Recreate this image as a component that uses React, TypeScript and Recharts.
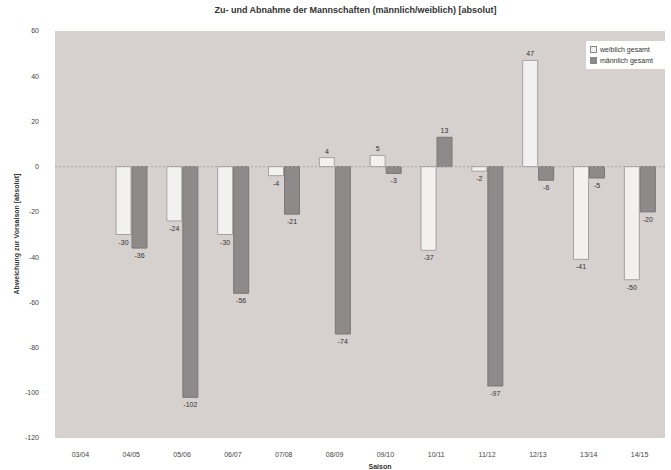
import React from "react";
import {
  Bar,
  BarChart,
  CartesianGrid,
  LabelList,
  ReferenceLine,
  XAxis,
  YAxis,
} from "recharts";

const seasons = ["03/04", "04/05", "05/06", "06/07", "07/08", "08/09", "09/10", "10/11", "11/12", "12/13", "13/14", "14/15"];
const weiblich = [null, -30, -24, -30, -4, 4, 5, -37, -2, 47, -41, -50];
const maennlich = [null, -36, -102, -56, -21, -74, -3, 13, -97, -6, -5, -20];
const yTicks = [60, 40, 20, 0, -20, -40, -60, -80, -100, -120];

const data = seasons.map((s, i) => ({
  name: s,
  "weiblich gesamt": weiblich[i],
  "männlich gesamt": maennlich[i],
}));

const FONT = "'Liberation Sans', Arial, sans-serif";

function renderValue(props: any) {
  const { x, y, width, height, value } = props;
  if (value === null || value === undefined) return null;
  const top = Math.min(y, y + height);
  const bottom = Math.max(y, y + height);
  const ty = value >= 0 ? top - 4 : bottom + 10;
  return (
    <text x={x + width / 2} y={ty} textAnchor="middle" fontSize={7} fill="#333" fontFamily={FONT}>
      {value}
    </text>
  );
}

function LegendBox() {
  const items = [
    { label: "weiblich gesamt", fill: "#f3f1f0" },
    { label: "männlich gesamt", fill: "#8e8a89" },
  ];
  return (
    <div style={{ position: "absolute", top: 41, left: 586, width: 72, background: "#fff", padding: "3px 4px", fontSize: 7, fontFamily: FONT, color: "#333" }}>
      {items.map((it) => (
        <div key={it.label} style={{ display: "flex", alignItems: "center", height: 11 }}>
          <span style={{ display: "inline-block", width: 5, height: 5, background: it.fill, border: "1px solid #888", marginRight: 3 }} />
          {it.label}
        </div>
      ))}
    </div>
  );
}

export default function App() {
  return (
    <div style={{ width: 671, height: 470, background: "#fff", position: "relative" }}>
      <style>{"body{margin:0}"}</style>
      <div style={{ position: "absolute", top: 5, left: 0, width: 711, textAlign: "center", fontFamily: FONT, fontSize: 9, fontWeight: "bold", color: "#333" }}>
        Zu- und Abnahme der Mannschaften (männlich/weiblich) [absolut]
      </div>
      <BarChart
        width={671}
        height={470}
        data={data}
        margin={{ top: 31, right: 6, left: 15, bottom: 2 }}
        barCategoryGap="20%"
        barGap={1}
      >
        <CartesianGrid horizontal={false} vertical={false} fill="#d6d0cf" stroke="#bbb" />
        <XAxis
          dataKey="name"
          axisLine={false}
          tickLine={false}
          height={30}
          tick={{ fontSize: 7, fill: "#444", fontFamily: FONT }}
          tickMargin={8}
          label={{ value: "Saison", position: "insideBottom", offset: -1, dx: 20, fontSize: 7, fontWeight: "bold", fill: "#333", fontFamily: FONT }}
        />
        <YAxis
          domain={[-120, 60]}
          ticks={yTicks}
          interval={0}
          axisLine={false}
          tickLine={false}
          width={40}
          tick={{ fontSize: 7, fill: "#444", fontFamily: FONT }}
          tickMargin={10}
          label={{ value: "Abweichung zur Vorsaison [absolut]", angle: -90, position: "insideLeft", offset: 2, dy: 60, fontSize: 7, fontWeight: "bold", fill: "#333", fontFamily: FONT }}
        />
        <ReferenceLine y={0} stroke="#a9a4a3" strokeDasharray="2 2" />
        <Bar dataKey="weiblich gesamt" fill="#f3f1f0" stroke="#a5a1a0" isAnimationActive={false}>
          <LabelList dataKey="weiblich gesamt" content={renderValue} />
        </Bar>
        <Bar dataKey="männlich gesamt" fill="#8e8a89" stroke="#7a7675" isAnimationActive={false}>
          <LabelList dataKey="männlich gesamt" content={renderValue} />
        </Bar>
      </BarChart>
      <LegendBox />
    </div>
  );
}
